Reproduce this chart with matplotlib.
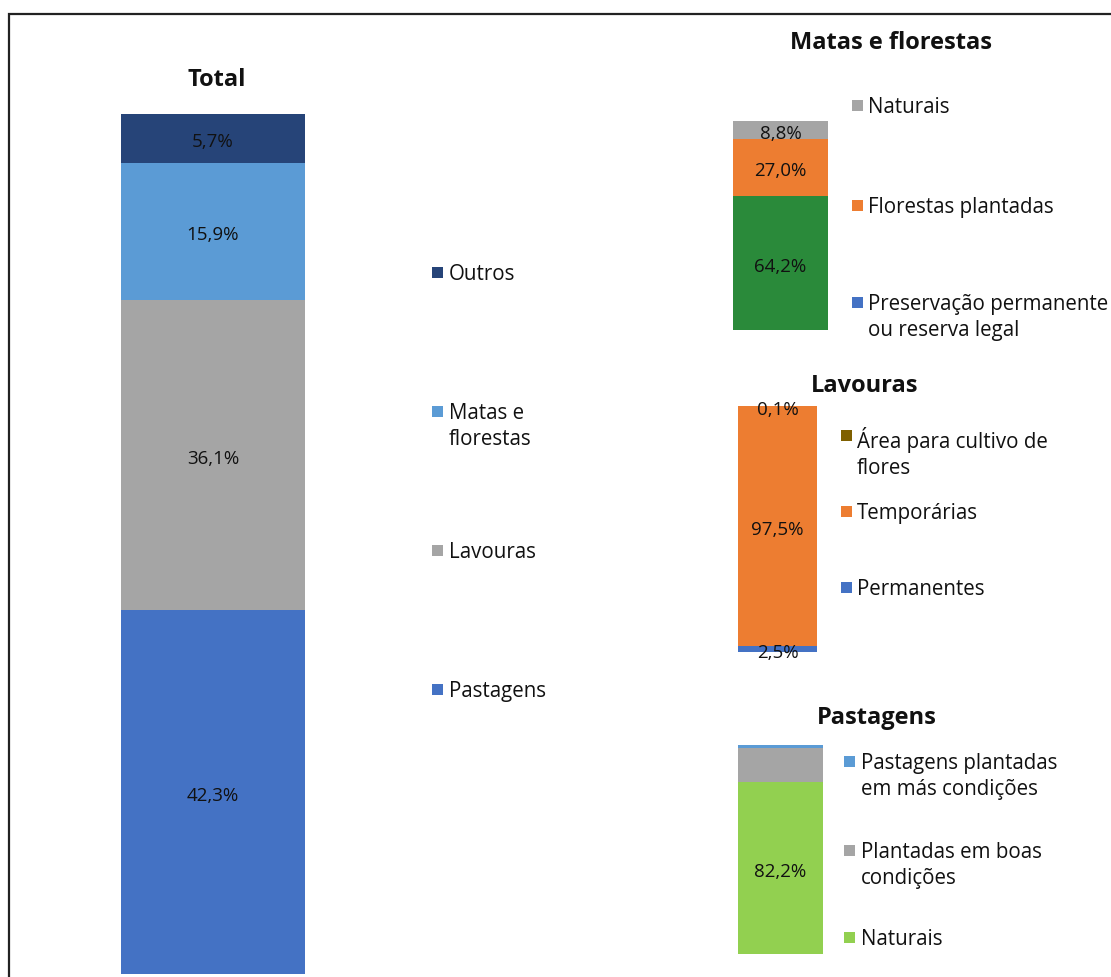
import matplotlib
matplotlib.use("Agg")
import matplotlib.pyplot as plt
from matplotlib.patches import Rectangle
import numpy as np

plt.rcParams['font.family'] = ['Open Sans', 'DejaVu Sans']

W, H = 1111, 978
DPI = 100

# ---- data ----
total_cats = ["Pastagens", "Lavouras", "Matas e\nflorestas", "Outros"]
total_vals = [42.3, 36.1, 15.9, 5.7]
total_colors = ["#4472C4", "#A5A5A5", "#5B9BD5", "#264478"]

matas_cats = ["Preservação permanente\nou reserva legal", "Florestas plantadas", "Naturais"]
matas_vals = [64.2, 27.0, 8.8]
matas_bar_colors = ["#2A8A3A", "#ED7D31", "#A5A5A5"]
matas_leg_colors = ["#4472C4", "#ED7D31", "#A5A5A5"]

lav_cats = ["Permanentes", "Temporárias", "Área para cultivo de\nflores"]
lav_vals = [2.5, 97.5, 0.1]
lav_colors = ["#4472C4", "#ED7D31", "#7F6000"]

past_cats = ["Naturais", "Plantadas em boas\ncondições", "Pastagens plantadas\nem más condições"]
past_vals = [82.2, 16.4, 1.4]
past_colors = ["#92D050", "#A5A5A5", "#5B9BD5"]
past_labels = ["82,2%", "", ""]


def fmt(v):
    return f"{v:.1f}%".replace(".", ",")


fig = plt.figure(figsize=(W / DPI, H / DPI), dpi=DPI)
fig.patch.set_facecolor("white")


def fx(x):
    return x / W


def fy(y):
    return 1 - y / H


def add_ax(x0, x1, y0, y1):
    ax = fig.add_axes([fx(x0), fy(y1), (x1 - x0) / W, (y1 - y0) / H])
    ax.set_axis_off()
    return ax


def stacked(ax, vals, colors, labels, ymax):
    bottoms = np.concatenate([[0], np.cumsum(vals)[:-1]])
    bars = ax.bar([0] * len(vals), vals, bottom=bottoms, width=1.0, color=colors, linewidth=0)
    for b, lab in zip(bars, labels):
        if lab:
            ax.annotate(lab, (b.get_x() + b.get_width() / 2, b.get_y() + b.get_height() / 2),
                        xytext=(0, -2), textcoords="offset points",
                        ha="center", va="center", fontsize=13.5, color="#111111",
                        annotation_clip=False)
    ax.set_xlim(-0.5, 0.5)
    ax.set_ylim(0, ymax)


def legend(x_sq, x_txt, ys, cats, colors, size=11):
    for y, c, col in zip(ys, cats, colors):
        fig.add_artist(Rectangle((fx(x_sq), fy(y + 1 + size / 2)), size / W, size / H,
                                 transform=fig.transFigure, color=col, lw=0))
        fig.text(fx(x_txt), fy(y - 8), c, ha="left", va="top", fontsize=14.8,
                 color="#111111", linespacing=1.31)


def title(x, y, s):
    fig.text(fx(x), fy(y + 2), s, ha="center", va="center", fontsize=17, fontweight="bold",
             color="#111111")


# frame
fig.add_artist(Rectangle((fx(9), fy(1200)), 2.0, fy(15) - fy(1200),
                         transform=fig.transFigure, fill=False, edgecolor="#222222", lw=1.6))

# Total
ax = add_ax(121, 305, 115, 975)
stacked(ax, total_vals, total_colors, [fmt(v) for v in total_vals], 100)
title(217, 78, "Total")
legend(432, 449, [689, 550, 411, 272], total_cats, total_colors)

# Matas e florestas
ax = add_ax(733, 828, 122, 331)
stacked(ax, matas_vals, matas_bar_colors, [fmt(v) for v in matas_vals], sum(matas_vals))
title(891, 41, "Matas e florestas")
legend(852, 868, [302, 205, 105], matas_cats, matas_leg_colors)

# Lavouras
ax = add_ax(738, 817, 407, 653)
stacked(ax, lav_vals, lav_colors, [fmt(v) for v in lav_vals], sum(lav_vals))
title(865, 384, "Lavouras")
legend(841, 857, [587, 511, 435], lav_cats, lav_colors)

# Pastagens
ax = add_ax(738, 823, 746, 955)
stacked(ax, past_vals, past_colors, past_labels, sum(past_vals))
title(877, 716, "Pastagens")
legend(844, 861, [937, 850, 761], past_cats, past_colors)

fig.savefig("out.png", dpi=DPI, facecolor="white")
